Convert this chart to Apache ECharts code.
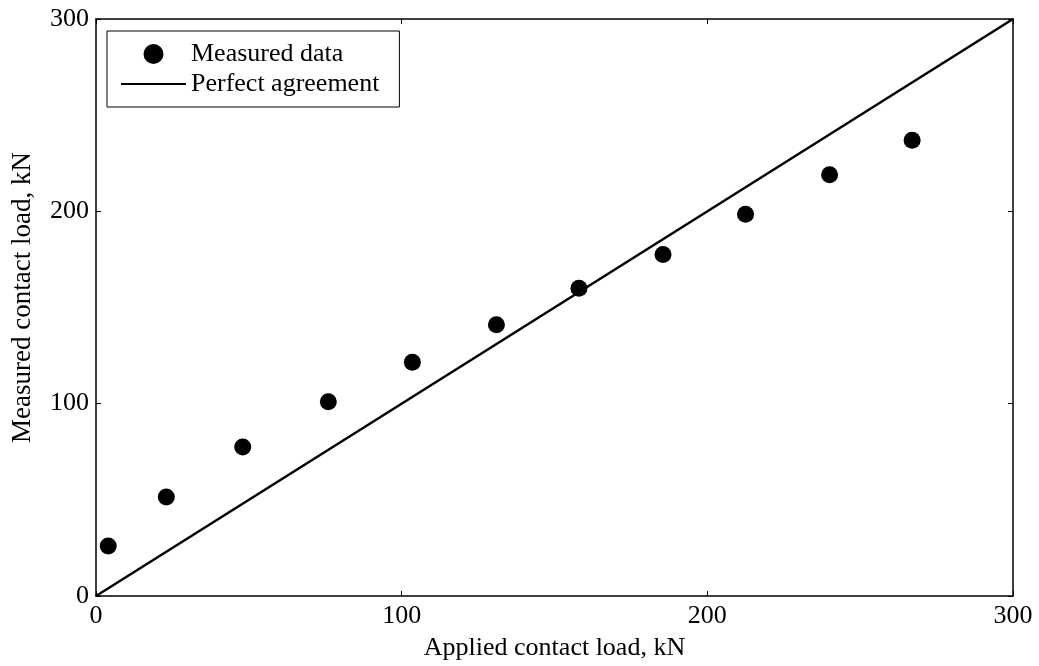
<!DOCTYPE html>
<html>
<head>
<meta charset="utf-8">
<script src="https://cdn.jsdelivr.net/npm/echarts@6/dist/echarts.min.js"></script>
<style>
	html, body { margin: 0; padding: 0; background: #fff; }
	#main { width: 1039px; height: 666px; }
</style>
</head>
<body>
<div id="main"></div>
<script>
// 读图得到的数据
var appliedLoad = [4, 23, 48, 76, 103.5, 131, 158, 185.5, 212.5, 240, 267];
var measuredLoad = [26, 51.5, 77.5, 101, 121.5, 141, 160, 177.5, 198.5, 219, 237];
var perfectX = [0, 300];
var axisTicks = [0, 100, 200, 300];

var FONT = 'Liberation Serif';

var measured = appliedLoad.map(function(x, i) { return [x, measuredLoad[i]]; });
var perfect = perfectX.map(function(x) { return [x, x]; });

var myChart = echarts.init(document.getElementById('main'));

function baseAxis(extra) {
	var a = {
		type: 'value',
		min: axisTicks[0],
		max: axisTicks[axisTicks.length - 1],
		interval: axisTicks[1] - axisTicks[0],
		splitLine: { show: false },
		axisLine: { show: true, onZero: false, lineStyle: { color: '#000', width: 1.5 } },
		axisTick: { show: true, inside: true, length: 5, lineStyle: { color: '#000', width: 1 } },
		axisLabel: { show: true, color: '#000', fontFamily: FONT, fontSize: 26, margin: 7 }
	};
	for (var k in extra) a[k] = extra[k];
	return a;
}

var option = {
	backgroundColor: '#fff',
	animation: false,
	grid: { left: 96, right: 26, top: 19, bottom: 67, containLabel: false },
	legend: {
		orient: 'vertical',
		left: 107,
		top: 31,
		data: ['Measured data', 'Perfect agreement'],
		itemWidth: 65,
		itemHeight: 20,
		itemGap: 4,
		padding: [10, 20, 10, 13],
		borderColor: '#000',
		borderWidth: 1,
		borderRadius: 0,
		textStyle: { color: '#000', fontFamily: FONT, fontSize: 26 }
	},
	xAxis: [
		baseAxis({
			position: 'bottom',
			name: 'Applied contact load, kN',
			nameLocation: 'middle',
			nameGap: 39,
			nameTextStyle: { color: '#000', fontFamily: FONT, fontSize: 26 }
		}),
		baseAxis({ position: 'top', axisLabel: { show: false } })
	],
	yAxis: [
		baseAxis({
			position: 'left',
			name: 'Measured contact load, kN',
			nameLocation: 'middle',
			nameGap: 60,
			// 左侧留白让标题略微上移
			nameTextStyle: { color: '#000', fontFamily: FONT, fontSize: 27, padding: [0, 0, 0, 20] }
		}),
		baseAxis({ position: 'right', axisLabel: { show: false } })
	],
	series: [
		{
			name: 'Measured data',
			type: 'scatter',
			symbol: 'circle',
			symbolSize: 17,
			itemStyle: { color: '#000', opacity: 1 },
			data: measured,
			z: 3
		},
		{
			name: 'Perfect agreement',
			type: 'line',
			symbol: 'none',
			// 图例里不显示圆点
			itemStyle: { color: 'rgba(0,0,0,0)' },
			lineStyle: { color: '#000', width: 2.5 },
			data: perfect,
			z: 2
		}
	]
};

myChart.setOption(option);
</script>
</body>
</html>
